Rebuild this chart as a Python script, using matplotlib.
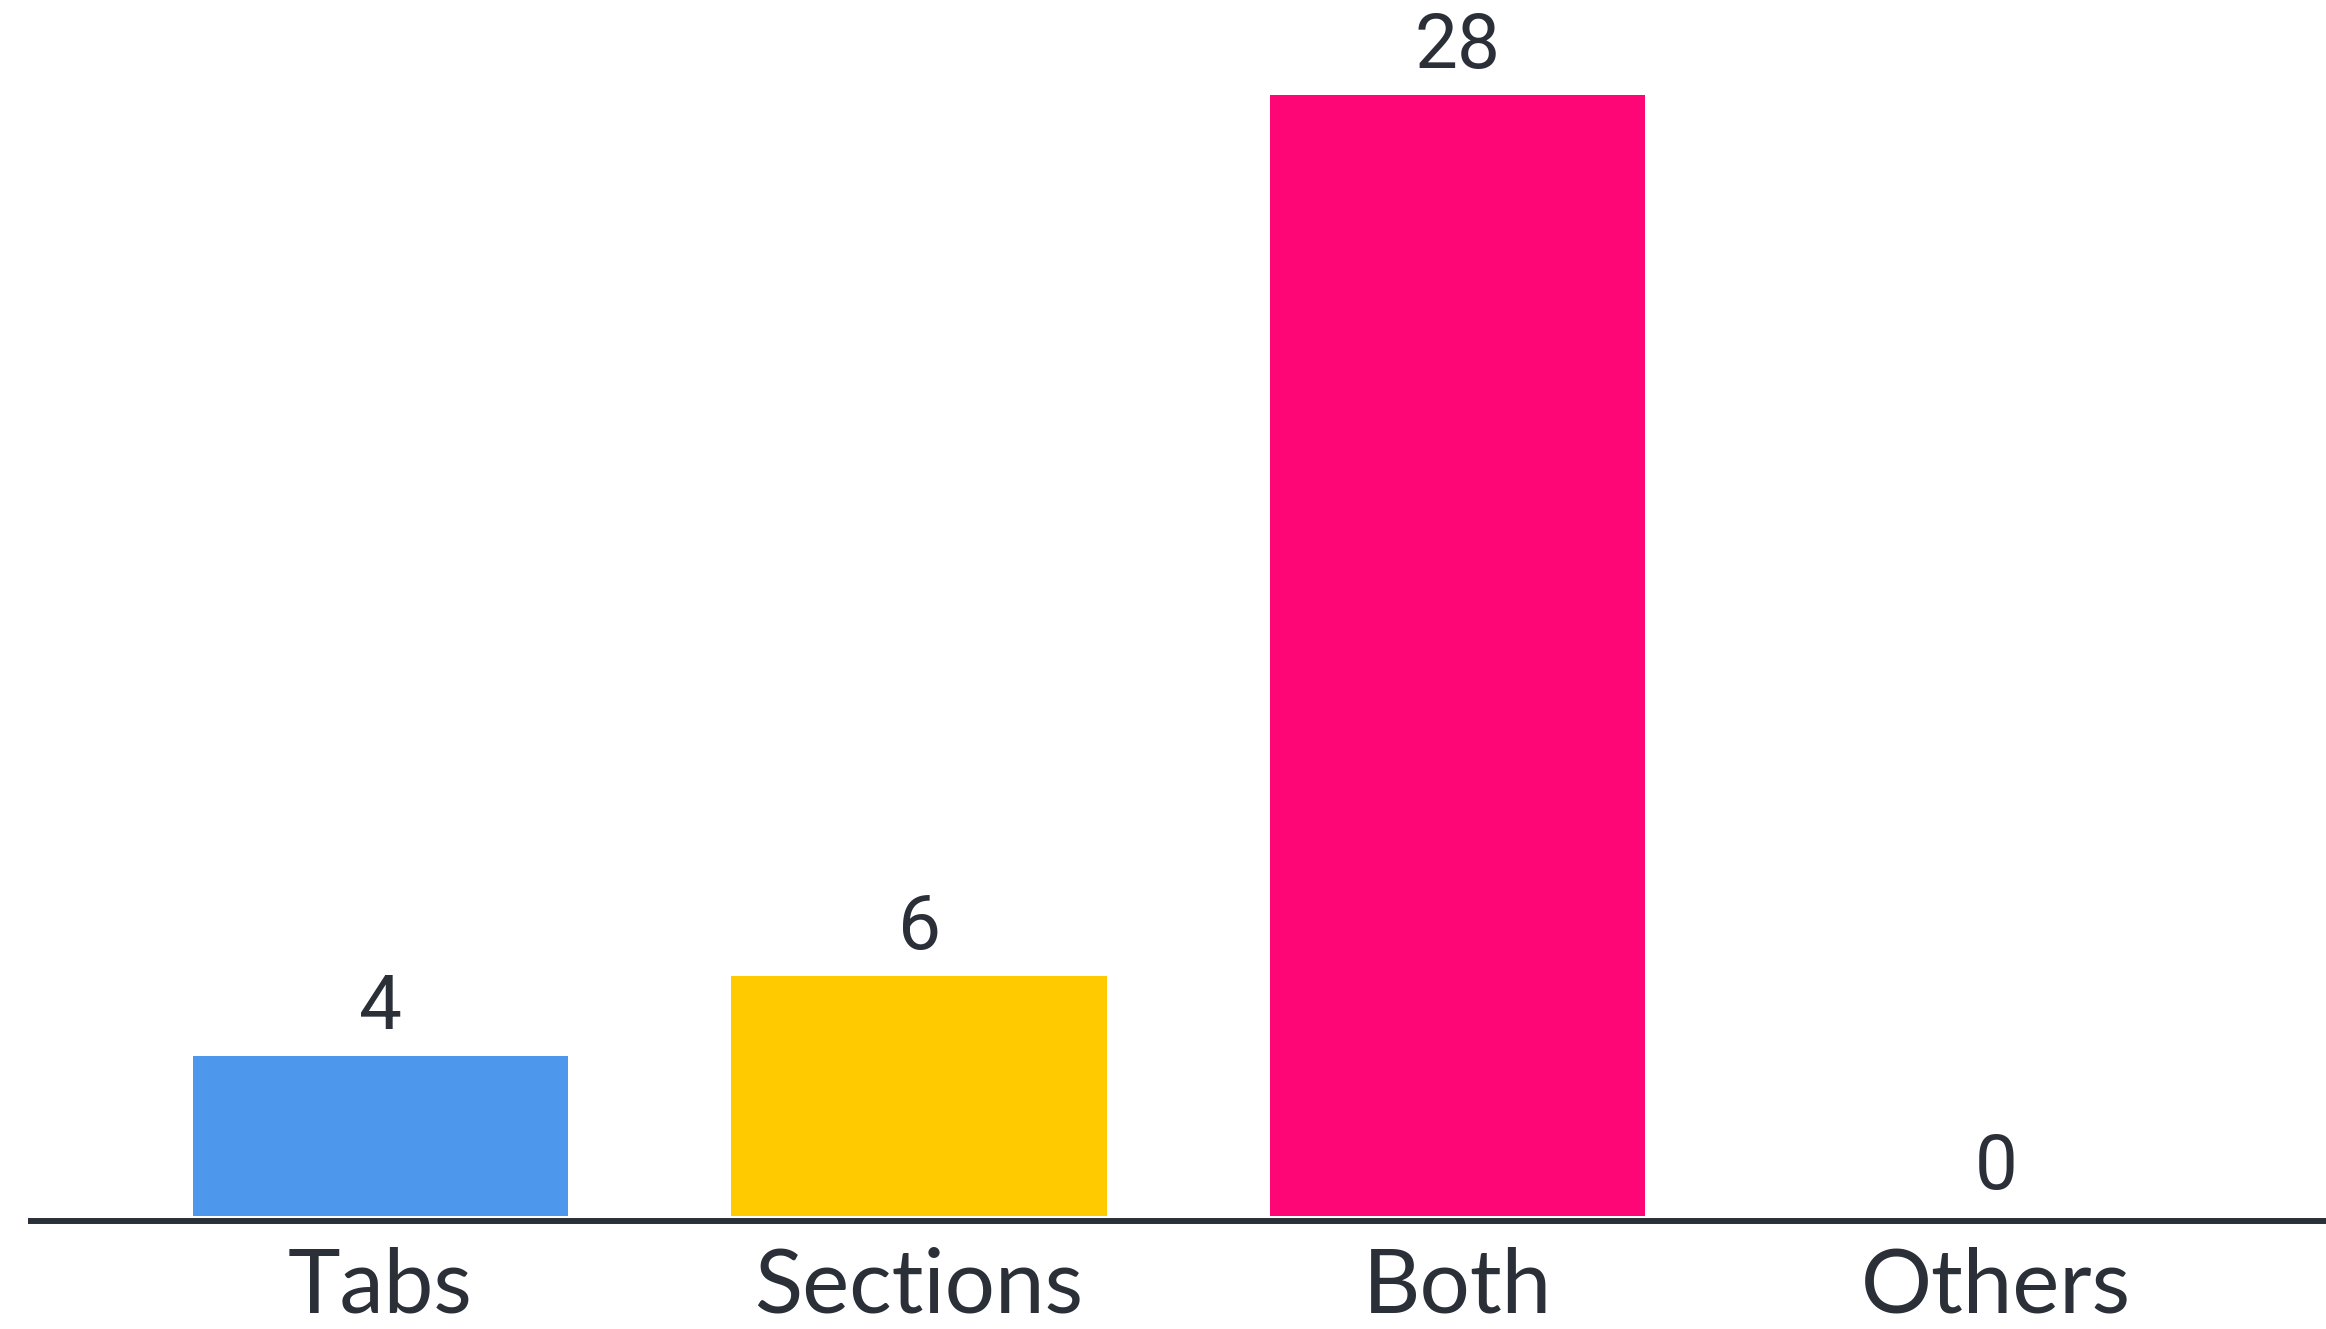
import numpy as np
import matplotlib
matplotlib.use("Agg")
import matplotlib.pyplot as plt

categories = ["Tabs", "Sections", "Both", "Others"]
counts = [4, 6, 28, 0]
colors = ["#4D97EC", "#FFCB00", "#FF0677", "#FFFFFF"]
text_col = "#2B2F38"

plt.rcParams['font.family'] = ['Lato', 'DejaVu Sans']

fig = plt.figure(figsize=(23.26, 13.29), dpi=100)
ax = fig.add_axes([0, 0, 1, 1])

x = np.arange(len(categories))
ax.bar(x, counts, width=0.697, color=colors, zorder=2)

# baseline rule
ax.plot([-0.655, 3.7], [-0.12, -0.12], color=text_col, lw=4.3,
        solid_capstyle='butt', zorder=3)

# value labels above bars
for xi, v in zip(x, counts):
    ax.annotate(str(v), (xi, v), xytext=(0, 19.2), textcoords='offset points',
                ha='center', va='baseline', fontsize=55, color=text_col,
                family=['Roboto', 'DejaVu Sans'])

for xi, lab in zip(x, categories):
    ax.annotate(lab, (xi, 0), xytext=(0, -69.8), textcoords='offset points',
                ha='center', va='baseline', fontsize=64, color=text_col)

ax.set_xlim(-0.7066, 3.6128)
ax.set_ylim(-2.82, 30.36)
ax.axis('off')

fig.savefig("out.png", dpi=100, facecolor="white")
